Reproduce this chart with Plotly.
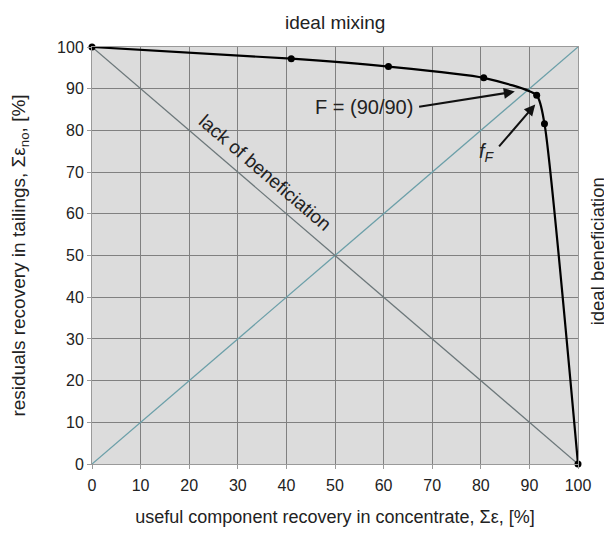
import plotly.graph_objects as go

# data
curve_x = [0, 41, 61, 80.6, 91.5, 93.1, 100]
curve_y = [100, 97.2, 95.3, 92.6, 88.4, 81.6, 0]
ideal_mixing_x = [0, 100]
ideal_mixing_y = [0, 100]
lack_x = [0, 100]
lack_y = [100, 0]
ticks = [0, 10, 20, 30, 40, 50, 60, 70, 80, 90, 100]

fig = go.Figure()
fig.add_trace(go.Scatter(x=ideal_mixing_x, y=ideal_mixing_y, mode="lines",
                         line=dict(color="#6b9fa8", width=1.3), showlegend=False, hoverinfo="skip"))
fig.add_trace(go.Scatter(x=lack_x, y=lack_y, mode="lines",
                         line=dict(color="#6c777a", width=1.3), showlegend=False, hoverinfo="skip"))
fig.add_trace(go.Scatter(x=curve_x, y=curve_y, mode="lines+markers",
                         line=dict(color="black", width=2.2, shape="spline", smoothing=0.6),
                         marker=dict(color="black", size=7), cliponaxis=False, showlegend=False))

font = "Liberation Sans, Arial, sans-serif"
axis_common = dict(range=[0, 100], tickvals=ticks, showgrid=True, gridcolor="#808080", gridwidth=1,
                   zeroline=False, showline=True, linecolor="#9a9a9a", linewidth=1, mirror=True,
                   ticks="outside", ticklen=4, tickcolor="#9a9a9a", automargin=False,
                   tickfont=dict(family=font, size=16, color="#222"))

fig.update_xaxes(**axis_common, ticklabelstandoff=3,
                 title=dict(text="useful component recovery in concentrate, Σε, [%]",
                            font=dict(family=font, size=18, color="#222"), standoff=18))
fig.update_yaxes(**axis_common,
                 title=dict(text="residuals recovery in tailings, Σε<sub>no</sub>, [%]",
                            font=dict(family=font, size=19, color="#222"), standoff=29))

fig.add_annotation(x=87, y=89.3, ax=67, ay=85.6, axref="x", ayref="y", xref="x", yref="y",
                   text="", showarrow=True, arrowhead=2, arrowsize=1.1, arrowwidth=2, arrowcolor="#111")
fig.add_annotation(x=67, y=85.6, text="F = (90/90)", showarrow=False, xanchor="right",
                   xshift=-3, font=dict(family=font, size=20, color="#222"))
fig.add_annotation(x=91.2, y=86.2, ax=83.5, ay=75.8, axref="x", ayref="y", xref="x", yref="y",
                   text="", showarrow=True, arrowhead=2, arrowsize=1.1, arrowwidth=2, arrowcolor="#111")
fig.add_annotation(x=81.2, y=74.6, text="<i>f<sub>F</sub></i>", showarrow=False,
                   font=dict(family=font, size=20, color="#222"))
fig.add_annotation(x=35.6, y=70.0, text="lack of beneficiation", showarrow=False, textangle=40.6,
                   font=dict(family=font, size=19, color="#222"))
fig.add_annotation(x=0.5, y=1, xref="paper", yref="paper", yanchor="bottom", yshift=12,
                   text="ideal mixing", showarrow=False, font=dict(family=font, size=19, color="#222"))
fig.add_annotation(x=1, y=51, xref="paper", yref="y", xanchor="center", xshift=19,
                   text="ideal beneficiation", showarrow=False, textangle=-90,
                   font=dict(family=font, size=18.5, color="#222"))

fig.update_layout(width=604, height=519, margin=dict(l=84, r=34, t=39, b=63, autoexpand=False),
                  plot_bgcolor="#dcdcdc", paper_bgcolor="white")
fig.write_html("out.html")
